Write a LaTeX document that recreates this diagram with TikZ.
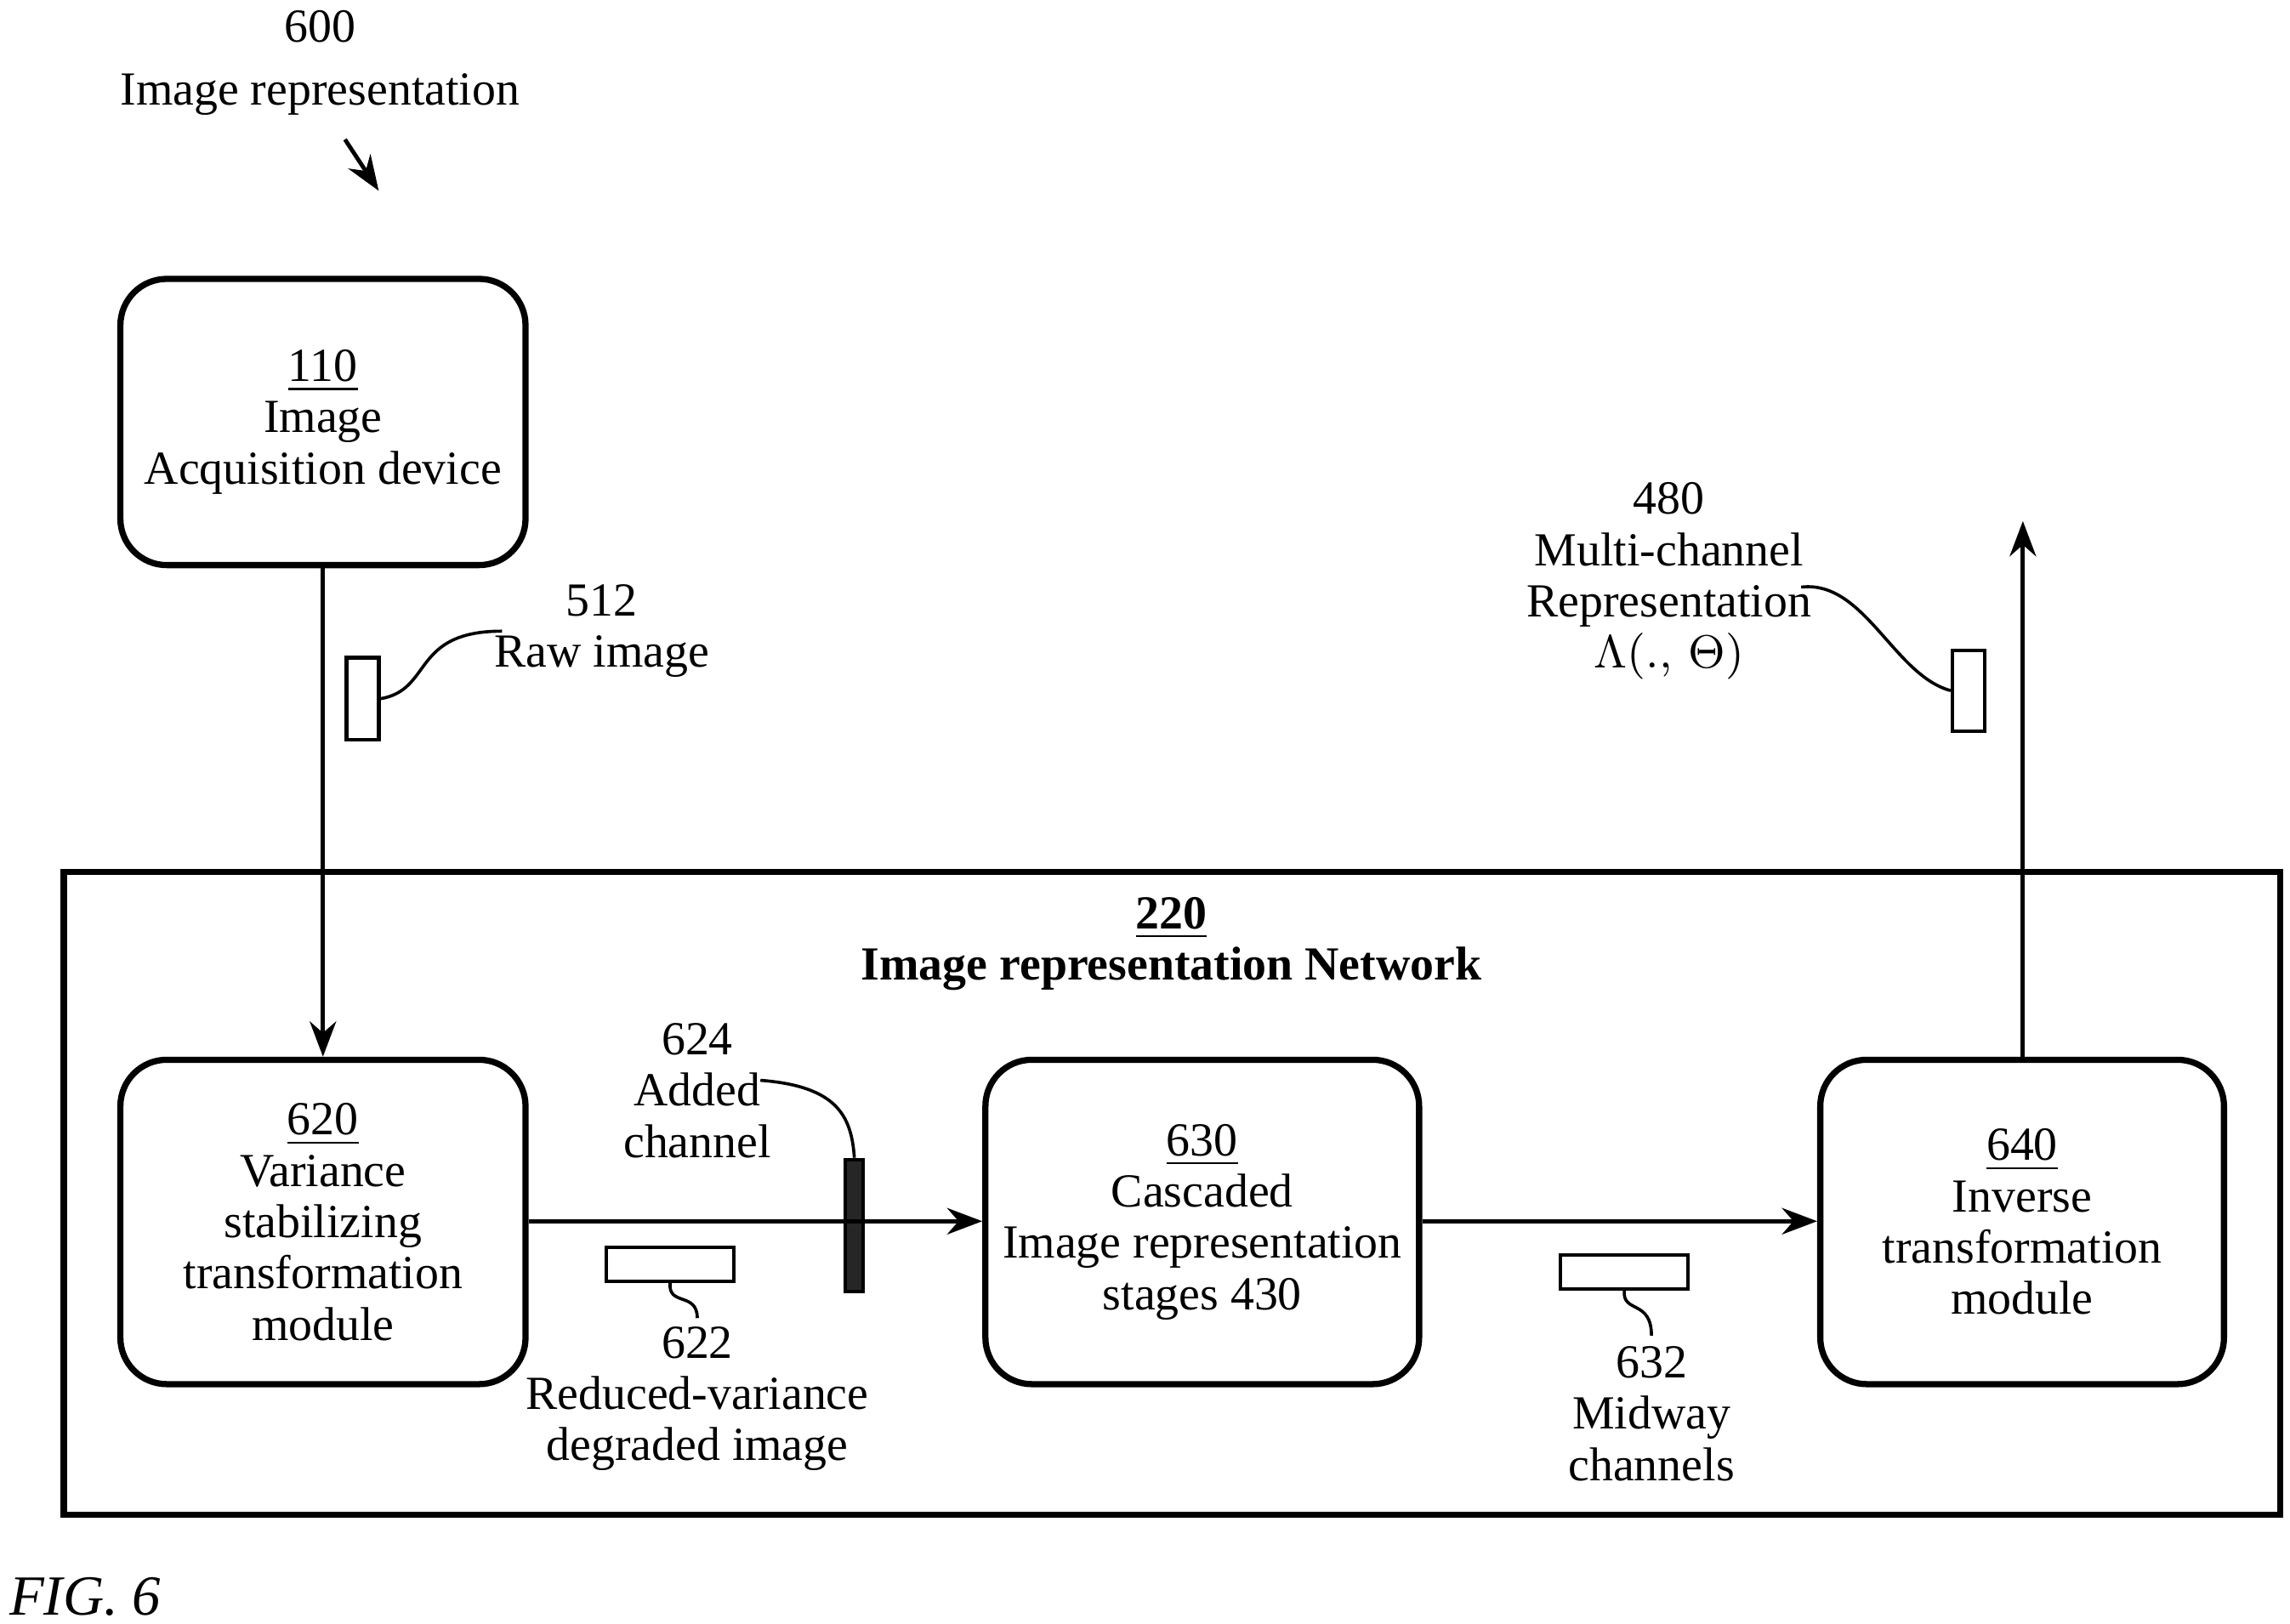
\documentclass[tikz,border=0pt]{standalone}
\usepackage{fontspec}
\setmainfont{Liberation Serif}
\usetikzlibrary{arrows.meta,positioning,calc}
\tikzset{
    % module boxes
    module/.style={
        rectangle,
        rounded corners=9pt,
        draw=black,
        line width=1.2pt,
        minimum width=2.76cm,
        minimum height=2.21cm,
        align=center
    },
    % small data tokens
    token/.style={
        rectangle,
        draw=black,
        line width=0.7pt,
        inner sep=0pt
    },
    flow/.style={
        -{Stealth[length=2.4mm, width=1.8mm]},
        line width=0.8pt
    },
    lead/.style={line width=0.6pt},
    label text/.style={align=center}
}
\begin{document}
\begin{tikzpicture}[x=1cm,y=1cm,font=\fontsize{9.2}{9.95}\selectfont]
    \useasboundingbox (0,0) rectangle (15.6,-11.06);

    % Title
    \node[label text] (title) at (2.18,-0.43) {600\\[0.08cm]Image representation};
    \coordinate (titleend) at (2.58,-1.3);
    \draw[flow] (2.35,-0.95) -- (titleend);

    % Network frame
    \node[draw, line width=1.2pt, minimum width=15.1cm, minimum height=4.38cm, inner sep=0pt] (net) at (7.985,-8.13) {};
    \node[label text, font=\fontsize{9.2}{9.95}\selectfont\bfseries] (netlabel) at (7.98,-6.43) {\underline{220}\\Image representation Network};

    % Modules
    \node[module, minimum height=1.95cm] (acq) at (2.2,-2.875) {\underline{110}\\Image\\Acquisition device};
    \node[module] (vst) at (2.2,-8.325) {\underline{620}\\Variance\\stabilizing\\transformation\\module};
    \node[module, minimum width=2.88cm] (casc) at (8.19,-8.325) {\underline{630}\\Cascaded\\Image representation\\stages 430};
    \node[module, minimum width=2.75cm] (inv) at (13.775,-8.325) {\underline{640}\\Inverse\\transformation\\module};

    % Tokens
    \node[token, minimum width=0.22cm, minimum height=0.56cm] (raw) at (2.47,-4.76) {};
    \node[token, minimum width=0.87cm, minimum height=0.23cm] (reduced) at (4.565,-8.615) {};
    \node[token, fill=black!85, minimum width=0.12cm, minimum height=0.9cm] (added) at (5.82,-8.35) {};
    \node[token, minimum width=0.87cm, minimum height=0.23cm] (midway) at (11.065,-8.665) {};
    \node[token, minimum width=0.22cm, minimum height=0.55cm] (multi) at (13.41,-4.705) {};
    \coordinate (out) at (13.78,-3.55);

    % Labels
    \node[label text] (rawlabel) at (4.1,-4.3) {512\\Raw image};
    \node[label text] (addedlabel) at (4.75,-7.43) {624\\Added\\channel};
    \node[label text] (reducedlabel) at (4.75,-9.53) {622\\Reduced-variance\\degraded image};
    \node[label text] (midwaylabel) at (11.25,-9.63) {632\\Midway\\channels};
    \node[label text] (multilabel) at (11.37,-3.96) {480\\Multi-channel\\Representation\\$\Lambda(.,\,\Theta)$};

    % Connections
    \draw[flow] (acq) -- (vst);
    \draw[flow] (vst.east |- 0,-8.32) -- (casc.west |- 0,-8.32);
    \draw[flow] (casc.east |- 0,-8.32) -- (inv.west |- 0,-8.32);
    \draw[flow] (inv.north -| out) -- (out);

    % Leaders
    \draw[lead] (raw.east) .. controls (2.95,-4.7) and (2.8,-4.3) .. (3.42,-4.3);
    \draw[lead] (5.18,-7.36) .. controls (5.7,-7.4) and (5.8,-7.6) .. (added.north);
    \draw[lead] (reduced.south) .. controls (4.55,-8.9) and (4.75,-8.8) .. (4.75,-8.98);
    \draw[lead] (midway.south) .. controls (11.05,-8.95) and (11.25,-8.85) .. (11.25,-9.1);
    \draw[lead] (multi.west) .. controls (12.9,-4.6) and (12.7,-3.95) .. (12.27,-4.0);

    % Figure label
    \node[font=\fontsize{11}{12}\selectfont\itshape] (fig) at (0.58,-10.88) {FIG. 6};
\end{tikzpicture}
\end{document}
